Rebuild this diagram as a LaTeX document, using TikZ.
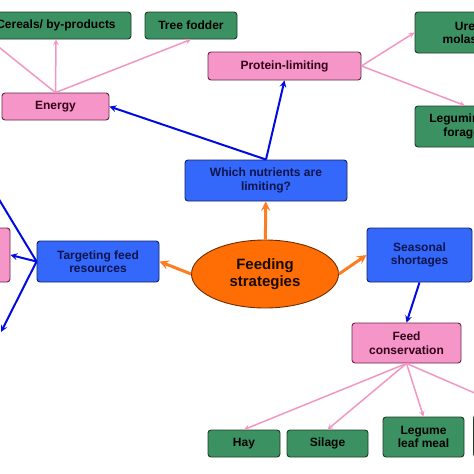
\documentclass[tikz,border=0pt]{standalone}
\usepackage{fontspec}
\setmainfont{Liberation Sans}
\usetikzlibrary{arrows, shapes.geometric}

\definecolor{boxgreen}{RGB}{60,145,98}
\definecolor{greenline}{RGB}{28,60,40}
\definecolor{boxpink}{RGB}{246,150,200}
\definecolor{pinkline}{RGB}{100,40,70}
\definecolor{pinktext}{RGB}{50,0,25}
\definecolor{boxblue}{RGB}{52,104,250}
\definecolor{blueline}{RGB}{20,35,100}
\definecolor{bluetext}{RGB}{15,20,75}
\definecolor{feedorange}{RGB}{255,110,5}
\definecolor{orangeline}{RGB}{110,45,0}
\definecolor{linkpink}{RGB}{242,150,195}
\definecolor{linkblue}{RGB}{0,10,225}
\definecolor{linkorange}{RGB}{252,125,35}

\begin{document}
\begin{tikzpicture}[x=1pt, y=-1pt,
    box/.style={draw, rounded corners=3pt, line width=0.9pt, inner sep=0pt, align=center,
                font=\fontsize{12}{13.5}\selectfont\bfseries},
    greenbox/.style={box, draw=greenline, fill=boxgreen, text=black},
    pinkbox/.style={box, draw=pinkline, fill=boxpink, text=pinktext},
    bluebox/.style={box, draw=blueline, fill=boxblue, text=bluetext},
    pinklink/.style={-stealth, draw=linkpink, line width=1.5pt},
    bluelink/.style={-stealth, draw=linkblue, line width=2pt},
    orangelink/.style={-stealth, draw=linkorange, line width=3pt}]
    \useasboundingbox (0,0) rectangle (474,474);
    \clip (0,0) rectangle (474,474);

    % centre
    \node[ellipse, draw=orangeline, line width=0.9pt, fill=feedorange, text=black!80!orangeline, inner sep=0pt,
          minimum width=147pt, minimum height=68pt, align=center,
          font=\fontsize{15}{17}\selectfont\bfseries] (feed) at (265,274) {Feeding\\strategies};

    % blue questions
    \node[bluebox, minimum width=162pt, minimum height=41pt] (which) at (266,180.5) {Which nutrients are\\limiting?};
    \node[bluebox, minimum width=122pt, minimum height=41pt] (target) at (98,261.5) {Targeting feed\\resources};
    \node[bluebox, minimum width=105pt, minimum height=54pt] (season) at (419.5,255) {Seasonal\\shortages};

    % pink boxes
    \node[pinkbox, minimum width=107pt, minimum height=27pt] (energy) at (55.5,106.5) {Energy};
    \node[pinkbox, minimum width=153pt, minimum height=28pt] (protein) at (284.5,66) {Protein-limiting};
    \node[pinkbox, minimum width=109pt, minimum height=40pt] (conserv) at (406.5,343) {Feed\\conservation};
    \node[pinkbox, minimum width=70pt, minimum height=54pt] (leftpink) at (-25,255) {};

    % green boxes
    \node[greenbox, minimum width=150pt, minimum height=27pt] (cereal) at (56,25.5) {Cereals/ by-products};
    \node[greenbox, minimum width=92pt, minimum height=27pt] (tree) at (191,25.5) {Tree fodder};
    \node[greenbox, minimum width=110pt, minimum height=41pt] (urea) at (470,32.5) {Urea/\\molasses};
    \node[greenbox, minimum width=100pt, minimum height=41pt] (legum) at (465,126.5) {Leguminous\\forages};
    \node[greenbox, minimum width=72pt, minimum height=27pt] (hay) at (244,443.5) {Hay};
    \node[greenbox, minimum width=81pt, minimum height=27pt] (silage) at (327.5,443.5) {Silage};
    \node[greenbox, minimum width=81pt, minimum height=40pt] (leafmeal) at (423.5,437) {Legume\\leaf meal};
    \node[greenbox, minimum width=81pt, minimum height=42pt] (lastbox) at (514,436) {};

    % free ends off the frame
    \coordinate (offenergy) at (-20,32);
    \coordinate (offtarget) at (-20,168);
    \coordinate (downtarget) at (1,332);
    \coordinate (offconserv) at (500,404);

    \draw[orangelink] (feed) -- (which);
    \draw[orangelink] (feed.west) -- (target.east);
    \draw[orangelink] (feed.east) -- (season.west);

    \draw[bluelink] (which.north) -- (energy.east);
    \draw[bluelink] (which.north) -- (protein.south);
    \draw[bluelink] (target.west) -- (leftpink.east);
    \draw[draw=linkblue, line width=2pt] (target.west) -- (offtarget);
    \draw[bluelink] (target.west) -- (downtarget);
    \draw[bluelink] (season.south) -- (conserv.north);

    \draw[pinklink] (energy.north) -- (cereal.south);
    \draw[pinklink] (energy.north) -- (tree.south);
    \draw[draw=linkpink, line width=1.5pt] (energy.north) -- (offenergy);
    \draw[pinklink] (protein.east) -- (urea.west);
    \draw[pinklink] (protein.east) -- (legum.north);
    \draw[pinklink] (conserv.south) -- (hay.north);
    \draw[pinklink] (conserv.south) -- (silage.north);
    \draw[pinklink] (conserv.south) -- (leafmeal.north);
    \draw[draw=linkpink, line width=1.5pt] (conserv.south) -- (offconserv);
\end{tikzpicture}
\end{document}
